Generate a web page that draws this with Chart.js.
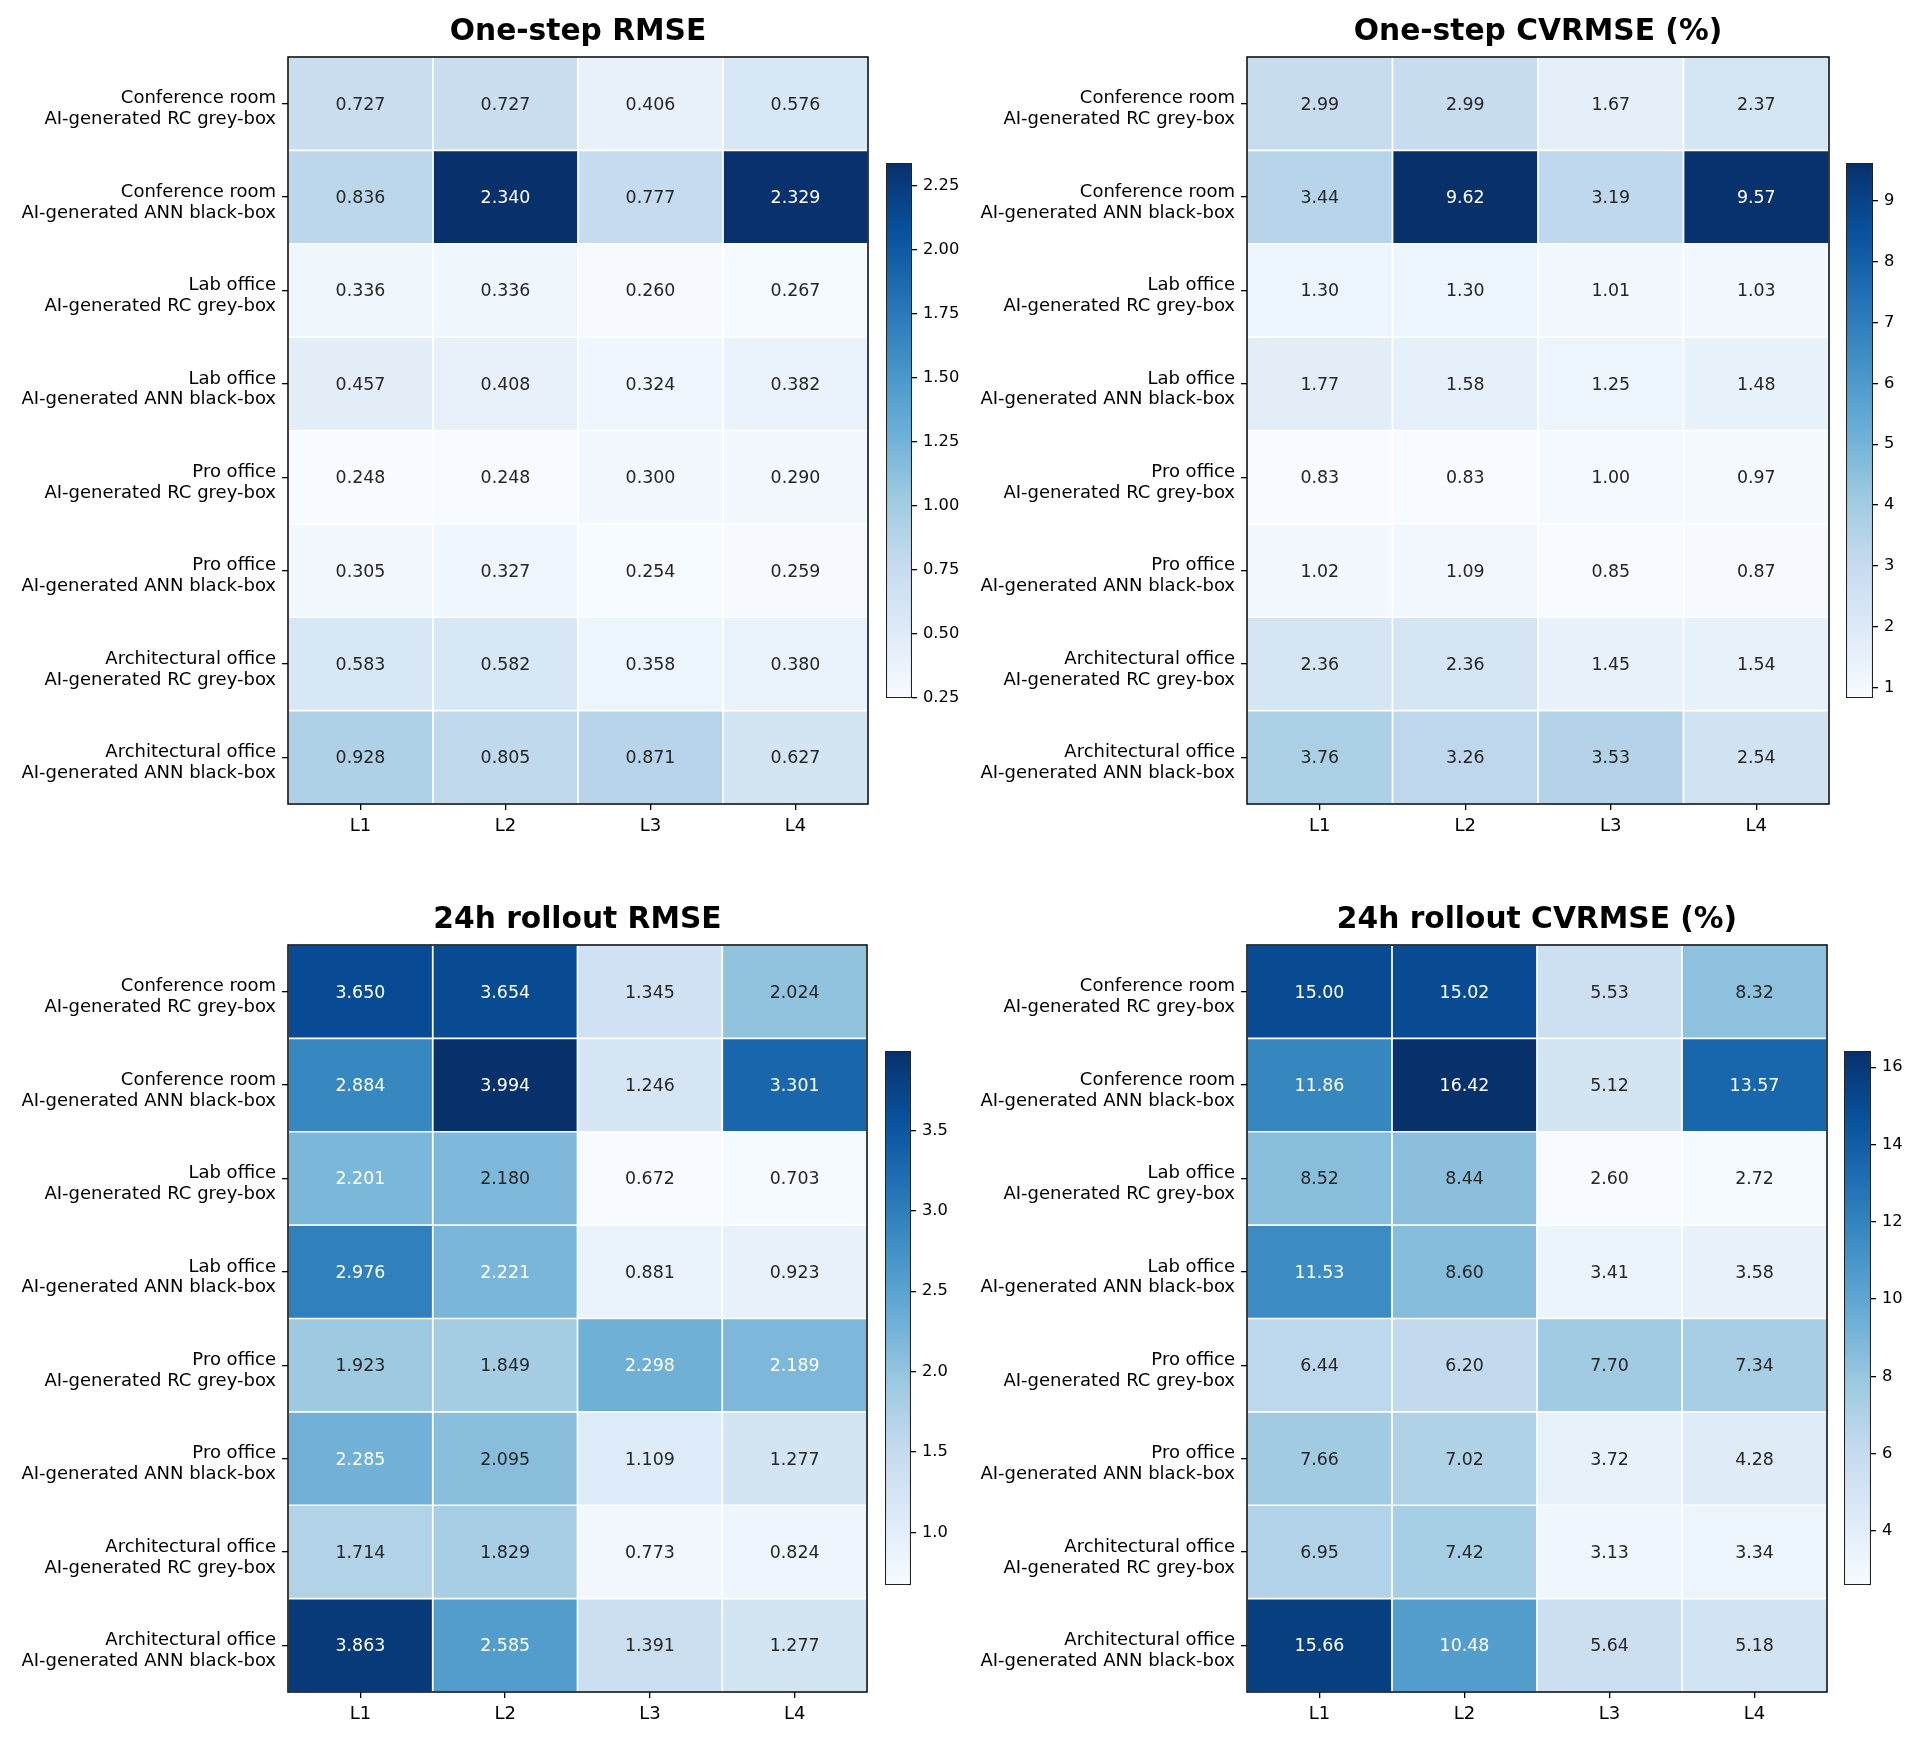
<!DOCTYPE html>
<html>
<head>
<meta charset="utf-8">
<script src="https://cdn.jsdelivr.net/npm/chart.js@4.4.0/dist/chart.umd.min.js"></script>
<style>
  html, body { margin: 0; padding: 0; background: #fff; }
  body { width: 1911px; height: 1746px; position: relative; overflow: hidden; }
  canvas { position: absolute; }
</style>
</head>
<body>
<canvas id="h1"></canvas><canvas id="c1"></canvas>
<canvas id="h2"></canvas><canvas id="c2"></canvas>
<canvas id="h3"></canvas><canvas id="c3"></canvas>
<canvas id="h4"></canvas><canvas id="c4"></canvas>
<script>
// ---------------- DATA ----------------
const columns = ['L1', 'L2', 'L3', 'L4'];

const rowLabels = [
  ['Conference room', 'AI-generated RC grey-box'],
  ['Conference room', 'AI-generated ANN black-box'],
  ['Lab office', 'AI-generated RC grey-box'],
  ['Lab office', 'AI-generated ANN black-box'],
  ['Pro office', 'AI-generated RC grey-box'],
  ['Pro office', 'AI-generated ANN black-box'],
  ['Architectural office', 'AI-generated RC grey-box'],
  ['Architectural office', 'AI-generated ANN black-box']
];

const titles = ['One-step RMSE', 'One-step CVRMSE (%)', '24h rollout RMSE', '24h rollout CVRMSE (%)'];

const oneStepRMSE = [
  [0.727, 0.727, 0.406, 0.576],
  [0.836, 2.340, 0.777, 2.329],
  [0.336, 0.336, 0.260, 0.267],
  [0.457, 0.408, 0.324, 0.382],
  [0.248, 0.248, 0.300, 0.290],
  [0.305, 0.327, 0.254, 0.259],
  [0.583, 0.582, 0.358, 0.380],
  [0.928, 0.805, 0.871, 0.627]
];

const oneStepCVRMSE = [
  [2.99, 2.99, 1.67, 2.37],
  [3.44, 9.62, 3.19, 9.57],
  [1.30, 1.30, 1.01, 1.03],
  [1.77, 1.58, 1.25, 1.48],
  [0.83, 0.83, 1.00, 0.97],
  [1.02, 1.09, 0.85, 0.87],
  [2.36, 2.36, 1.45, 1.54],
  [3.76, 3.26, 3.53, 2.54]
];

const rolloutRMSE = [
  [3.650, 3.654, 1.345, 2.024],
  [2.884, 3.994, 1.246, 3.301],
  [2.201, 2.180, 0.672, 0.703],
  [2.976, 2.221, 0.881, 0.923],
  [1.923, 1.849, 2.298, 2.189],
  [2.285, 2.095, 1.109, 1.277],
  [1.714, 1.829, 0.773, 0.824],
  [3.863, 2.585, 1.391, 1.277]
];

const rolloutCVRMSE = [
  [15.00, 15.02, 5.53, 8.32],
  [11.86, 16.42, 5.12, 13.57],
  [8.52, 8.44, 2.60, 2.72],
  [11.53, 8.60, 3.41, 3.58],
  [6.44, 6.20, 7.70, 7.34],
  [7.66, 7.02, 3.72, 4.28],
  [6.95, 7.42, 3.13, 3.34],
  [15.66, 10.48, 5.64, 5.18]
];

const cbTicksOneStepRMSE = [0.25, 0.50, 0.75, 1.00, 1.25, 1.50, 1.75, 2.00, 2.25];
const cbTicksOneStepCVRMSE = [1, 2, 3, 4, 5, 6, 7, 8, 9];
const cbTicksRolloutRMSE = [1.0, 1.5, 2.0, 2.5, 3.0, 3.5];
const cbTicksRolloutCVRMSE = [4, 6, 8, 10, 12, 14, 16];

// ---------------- STYLE / LAYOUT ----------------
const FONT = 'DejaVu Sans';
const Y_AXIS_W = 288;
const TITLE_H = 57;
const TITLE_SIZE = 29.7;
const TITLE_PAD_TOP = 14.5;
const X_AXIS_H = 50;
const RIGHT_PAD = 12;
const CB_AXIS_W = 60;
const CB_PAD = 20;

const BLUES = [[247,251,255],[222,235,247],[198,219,239],[158,202,225],[107,174,214],[66,146,198],[33,113,181],[8,81,156],[8,48,107]];
function blues(t) {
  t = Math.max(0, Math.min(1, t));
  const s = t * 8;
  const i = Math.min(7, Math.floor(s));
  const f = s - i;
  const a = BLUES[i], b = BLUES[i + 1];
  const c = a.map((v, k) => Math.round(v + (b[k] - v) * f));
  return 'rgb(' + c.join(',') + ')';
}

const framePlugin = {
  id: 'frame',
  afterDatasetsDraw(chart, args, opts) {
    if (!opts || !opts.show) return;
    const {ctx, chartArea: a} = chart;
    ctx.save();
    ctx.strokeStyle = '#000';
    ctx.lineWidth = 1.5;
    ctx.strokeRect(a.left, a.top, a.right - a.left, a.bottom - a.top);
    ctx.restore();
  }
};

const cellTextPlugin = {
  id: 'cellText',
  afterDatasetsDraw(chart, args, opts) {
    if (!opts || !opts.show) return;
    const ctx = chart.ctx;
    ctx.save();
    ctx.font = '17.4px "' + FONT + '"';
    ctx.textAlign = 'center';
    ctx.textBaseline = 'middle';
    chart.data.datasets.forEach((ds, r) => {
      const meta = chart.getDatasetMeta(r);
      meta.data.forEach((bar, c) => {
        const v = ds.values[c];
        const p = bar.getCenterPoint();
        ctx.fillStyle = ds.norm[c] > 0.455 ? '#ffffff' : '#262626';
        ctx.fillText(v.toFixed(opts.decimals), p.x, p.y + 1.5);
      });
    });
    ctx.restore();
  }
};

function place(canvas, left, top, w, h) {
  canvas.width = w; canvas.height = h;
  canvas.style.left = left + 'px'; canvas.style.top = top + 'px';
  canvas.style.width = w + 'px'; canvas.style.height = h + 'px';
}

function makePanel(idx, box, cb, values, decimals, cbTicks, cbDecimals) {
  const flat = values.flat();
  const vmin = Math.min(...flat), vmax = Math.max(...flat);
  const norm = v => (v - vmin) / (vmax - vmin);

  // heatmap
  const hc = document.getElementById('h' + idx);
  place(hc, box.l - Y_AXIS_W, box.t - TITLE_H,
        (box.r - box.l) + Y_AXIS_W + RIGHT_PAD, (box.b - box.t) + TITLE_H + X_AXIS_H);

  const tickFont = {family: FONT, size: 18};
  const gridOpts = {drawOnChartArea: false, drawTicks: true, tickLength: 6, color: '#000', lineWidth: 1.3};

  new Chart(hc, {
    type: 'bar',
    data: {
      labels: columns,
      datasets: rowLabels.map((lab, r) => ({
        label: lab.join(' '),
        data: columns.map(() => [r, r + 1]),
        values: values[r],
        norm: values[r].map(norm),
        backgroundColor: values[r].map(v => blues(norm(v))),
        borderColor: '#ffffff',
        borderWidth: 1.2,
        borderSkipped: false,
        grouped: false,
        categoryPercentage: 1,
        barPercentage: 1
      }))
    },
    options: {
      responsive: false,
      devicePixelRatio: 1,
      animation: false,
      events: [],
      layout: {padding: {left: 0, right: RIGHT_PAD, top: 0, bottom: 0}},
      plugins: {
        legend: {display: false},
        tooltip: {enabled: false},
        title: {
          display: true, text: titles[idx - 1], fullSize: false,
          color: '#000', font: {family: FONT, size: TITLE_SIZE, weight: 'bold', lineHeight: 1.2},
          padding: {top: TITLE_PAD_TOP, bottom: TITLE_H - TITLE_PAD_TOP - TITLE_SIZE * 1.2}
        },
        frame: {show: true},
        cellText: {show: true, decimals: decimals}
      },
      scales: {
        x: {
          type: 'category', offset: true,
          grid: Object.assign({offset: false}, gridOpts),
          border: {display: false},
          ticks: {font: tickFont, color: '#000', padding: 6, maxRotation: 0},
          afterFit(s) { s.height = X_AXIS_H; }
        },
        y: {
          type: 'linear', min: 0, max: rowLabels.length, reverse: true,
          grid: gridOpts,
          border: {display: false},
          ticks: {font: Object.assign({lineHeight: 1.16}, tickFont), color: '#000', padding: 6, autoSkip: false,
                  labelOffset: 5.5,
                  callback: (v, i) => rowLabels[i]},
          afterBuildTicks(s) { s.ticks = rowLabels.map((_, i) => ({value: i + 0.5})); },
          afterFit(s) { s.width = Y_AXIS_W; }
        }
      }
    },
    plugins: [framePlugin, cellTextPlugin]
  });

  // colorbar
  const cc = document.getElementById('c' + idx);
  place(cc, cb.l, cb.t - CB_PAD, (cb.r - cb.l) + CB_AXIS_W, (cb.b - cb.t) + 2 * CB_PAD);
  new Chart(cc, {
    type: 'bar',
    data: {
      labels: [''],
      datasets: [{
        data: [[vmin, vmax]],
        backgroundColor: (ctx) => {
          const ca = ctx.chart.chartArea;
          if (!ca) return BLUES[8];
          const g = ctx.chart.ctx.createLinearGradient(0, ca.bottom, 0, ca.top);
          BLUES.forEach((c, k) => g.addColorStop(k / 8, 'rgb(' + c.join(',') + ')'));
          return g;
        },
        borderColor: '#222',
        borderWidth: 1.4,
        borderSkipped: false,
        categoryPercentage: 1,
        barPercentage: 1
      }]
    },
    options: {
      responsive: false,
      devicePixelRatio: 1,
      animation: false,
      events: [],
      layout: {padding: {left: 0, right: 0, top: CB_PAD, bottom: CB_PAD}},
      plugins: {legend: {display: false}, tooltip: {enabled: false}},
      scales: {
        x: {display: false},
        y: {
          position: 'right', min: vmin, max: vmax,
          grid: {drawOnChartArea: false, drawTicks: true, tickLength: 5, color: '#000', lineWidth: 1.3},
          border: {display: false},
          ticks: {font: {family: FONT, size: 16.3}, color: '#000', padding: 6, autoSkip: false,
                  callback: (v) => Number(v).toFixed(cbDecimals)},
          afterBuildTicks(s) { s.ticks = cbTicks.map(v => ({value: v})); },
          afterFit(s) { s.width = CB_AXIS_W; }
        }
      }
    }
  });
}

makePanel(1, {l: 288, t: 57, r: 868, b: 804}, {l: 886, t: 163, r: 912, b: 698},
          oneStepRMSE, 3, cbTicksOneStepRMSE, 2);
makePanel(2, {l: 1247, t: 57, r: 1829, b: 804}, {l: 1846, t: 163, r: 1873, b: 698},
          oneStepCVRMSE, 2, cbTicksOneStepCVRMSE, 0);
makePanel(3, {l: 288, t: 945, r: 867, b: 1692}, {l: 885, t: 1051, r: 911, b: 1585},
          rolloutRMSE, 3, cbTicksRolloutRMSE, 1);
makePanel(4, {l: 1247, t: 945, r: 1827, b: 1692}, {l: 1844, t: 1051, r: 1871, b: 1585},
          rolloutCVRMSE, 2, cbTicksRolloutCVRMSE, 0);
</script>
</body>
</html>
